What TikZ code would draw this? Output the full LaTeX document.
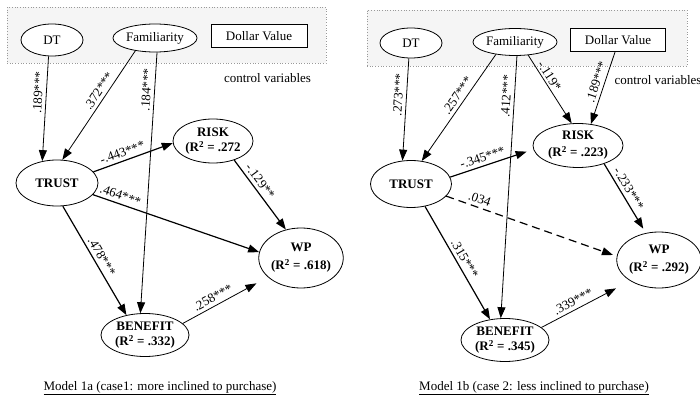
\documentclass[tikz,border=0pt]{standalone}
\usepackage{fontspec}
\setmainfont{Liberation Serif}
\usetikzlibrary{arrows.meta,shapes.geometric}
\begin{document}
\begin{tikzpicture}[x=1pt,y=-1pt,
  every node/.style={font=\fontsize{13}{15}\selectfont},
  var/.style={ellipse, draw, line width=0.8pt, inner sep=0pt, align=center,
    font=\fontsize{13}{15}\selectfont\bfseries},
  ctrl/.style={ellipse, draw, line width=0.8pt, inner sep=0pt, fill=white},
  dolbox/.style={rectangle, draw, line width=0.8pt, inner sep=0pt, fill=white,
    minimum width=96pt, minimum height=23pt},
  arr/.style={-{Triangle[length=11pt,width=8pt]}, line width=1.2pt},
  tarr/.style={-{Triangle[length=11pt,width=8pt]}, line width=0.8pt},
  lab/.style={sloped, above, inner sep=3.3pt, font=\fontsize{13}{15}\selectfont},
  ctrlbox/.style={draw=gray!80, dotted, fill=gray!8, line width=0.7pt, inner sep=0pt}
]
\useasboundingbox (0,0) rectangle (700,403);

% ---------------- Model 1a ----------------
\node[ctrlbox, minimum width=319pt, minimum height=56pt] (boxA) at (166.5,35) {};
\node[ctrl, minimum width=62pt, minimum height=32pt] (dtA) at (52,40) {DT};
\node[ctrl, minimum width=84pt, minimum height=28pt] (famA) at (155,38) {Familiarity};
\node[dolbox] (dolA) at (259,36) {Dollar Value};
\node (cvA) at (267.5,78) {control variables};

\node[var, minimum width=82pt, minimum height=46pt] (trustA) at (57,183) {TRUST};
\node[var, minimum width=80pt, minimum height=44pt] (riskA) at (213,141) {RISK\\(R\textsuperscript{2} = .272};
\node[var, minimum width=83pt, minimum height=60pt] (wpA) at (301,258) {WP\\[3pt](R\textsuperscript{2} = .618)};
\node[var, minimum width=88pt, minimum height=43pt] (benA) at (145,335) {BENEFIT\\(R\textsuperscript{2} = .332)};
\node (capA) at (160,388) {\underline{Model 1a (case1: more inclined to purchase)}};

\draw[tarr] (dtA.-102) -- node[lab, pos=.35] {.189***} (trustA.124);
\draw[tarr] (famA.-147) -- node[lab, pos=.41] {.372***} (trustA.77);
\draw[tarr] (famA.-82) -- node[lab, pos=.145] {.184***} (benA.102);
\draw[arr] (trustA.17) -- node[lab, pos=.4] {-.443***} (riskA.183);
\draw[arr] (trustA.-18) -- node[lab, pos=.15] {.464***} (wpA.172);
\draw[arr] (trustA.-76) -- node[lab, pos=.5] {.478***} (benA.133);
\draw[arr] (riskA.-42) -- node[lab, pos=.375] {-.129**} (wpA.118);
\draw[tarr, shorten >=13pt] (benA.17) -- node[lab, pos=.4] {.258***} (wpA.210);

% ---------------- Model 1b ----------------
\node[ctrlbox, minimum width=320pt, minimum height=56pt] (boxB) at (527,38) {};
\node[ctrl, minimum width=62pt, minimum height=30pt] (dtB) at (411,43) {DT};
\node[ctrl, minimum width=84pt, minimum height=27pt] (famB) at (515,42) {Familiarity};
\node[dolbox, minimum width=95pt] (dolB) at (618,40) {Dollar Value};
\node[anchor=west] (cvB) at (611,80) {control variables};

\node[var, minimum width=81pt, minimum height=47pt] (trustB) at (411,184) {TRUST};
\node[var, minimum width=90pt, minimum height=44pt] (riskB) at (578,145.5) {RISK\\[2pt](R\textsuperscript{2} = .223)};
\node[var, minimum width=82pt, minimum height=56pt] (wpB) at (659,260) {WP\\[3pt](R\textsuperscript{2} = .292)};
\node[var, minimum width=88pt, minimum height=43pt] (benB) at (505,340) {BENEFIT\\(R\textsuperscript{2} = .345)};
\node (capB) at (534,388) {\underline{Model 1b (case 2: less inclined to purchase)}};

\draw[tarr] (dtB.-98) -- node[lab, pos=.36] {.273***} (trustB.110);
\draw[tarr] (famB.-147) -- node[lab, pos=.43] {.257***} (trustB.65);
\draw[tarr] (famB.-82) -- node[lab, pos=.155] {.412***} (benB.101);
\draw[tarr] (famB.-45) -- node[lab, pos=.36, inner sep=2pt] {-.119*} (riskB.106);
\draw[tarr] (dolB.-104) -- node[lab, pos=.45] {.189***} (riskB.59);
\draw[arr, shorten >=7pt] (trustB.10) -- node[lab, pos=.42] {-.345***} (riskB.185);
\draw[arr, dash pattern=on 8pt off 5pt, shorten >=4pt] (trustB.-19.4) -- node[lab, pos=.18] {.034} (wpB.175);
\draw[arr] (trustB.-58) -- node[lab, pos=.5] {.315***} (benB.126);
\draw[arr, shorten >=5pt] (riskB.-35) -- node[lab, pos=.42] {-.233***} (wpB.116);
\draw[tarr, shorten >=16pt] (benB.19) -- node[lab, pos=.4] {.339***} (wpB.216);
\end{tikzpicture}
\end{document}
